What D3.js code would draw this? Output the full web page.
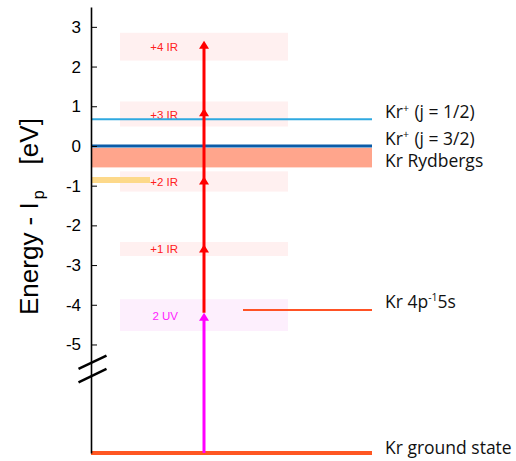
<!DOCTYPE html>
<html><head><meta charset="utf-8">
<script src="https://cdn.jsdelivr.net/npm/d3@7"></script>
<style>body{margin:0;background:#fff}</style>
</head><body><svg id="c" width="516" height="461"></svg>
<script>
// ---- data ----
const tickValues = [-5, -4, -3, -2, -1, 0, 1, 2, 3];
const photonLabels = ["2 UV", "+1 IR", "+2 IR", "+3 IR", "+4 IR"];
const photonEnergies = [-4.2, -2.48, -0.77, 0.95, 2.65];
const bandLow = [-4.66, -2.77, -1.15, 0.49, 2.15];
const bandHigh = [-3.86, -2.42, -0.64, 1.12, 2.85];
const groundEnergy = -14.0;
const ionJ12Energy = 0.67;
const ionJ32Energy = 0.0;
const rydbergRange = [-0.54, -0.05];
const excitedEnergy = -4.13;
const yellowEnergy = -0.86;
const breakEnergy = -5.66;

// ---- layout ----
const svg = d3.select("#c");
const axisX = 91, levelEnd = 372, boxX0 = 120, boxX1 = 288, arrowX = 204, labelX = 385;
const y = d3.scaleLinear().domain([groundEnergy, -5.6, 3.5]).range([453, 368.3, 7]);
const sans = "'Liberation Sans', Arial, sans-serif";
const myriad = "'Open Sans', 'Noto Sans', sans-serif";

// photon boxes
const boxes = photonLabels.map((l, i) => ({l, lo: bandLow[i], hi: bandHigh[i], uv: i === 0}));
svg.selectAll("rect.box").data(boxes).join("rect")
  .attr("x", boxX0).attr("width", boxX1 - boxX0)
  .attr("y", d => y(d.hi)).attr("height", d => y(d.lo) - y(d.hi))
  .attr("fill", d => d.uv ? "#fdeffd" : "#fff0f0");
svg.selectAll("text.box").data(boxes).join("text")
  .attr("x", 178).attr("y", d => (y(d.hi) + y(d.lo)) / 2 + 4.5)
  .attr("text-anchor", "end").attr("font-family", sans).attr("font-size", 11.5)
  .attr("fill", d => d.uv ? "#ff22ff" : "#ff2020").text(d => d.l);

// Rydberg band
svg.append("rect").attr("x", axisX).attr("width", levelEnd - axisX)
  .attr("y", y(rydbergRange[1])).attr("height", y(rydbergRange[0]) - y(rydbergRange[1]))
  .attr("fill", "#ffa58c");
// yellow bar
svg.append("line").attr("x1", axisX).attr("x2", 150).attr("y1", y(yellowEnergy)).attr("y2", y(yellowEnergy))
  .attr("stroke", "#fdd98a").attr("stroke-width", 6);
// ion levels
svg.append("line").attr("x1", axisX).attr("x2", levelEnd).attr("y1", y(ionJ12Energy)).attr("y2", y(ionJ12Energy))
  .attr("stroke", "#2fa9e0").attr("stroke-width", 2);
svg.append("line").attr("x1", axisX).attr("x2", levelEnd).attr("y1", y(ionJ32Energy)).attr("y2", y(ionJ32Energy))
  .attr("stroke", "#0b5ca8").attr("stroke-width", 3);
// excited level
svg.append("line").attr("x1", 243).attr("x2", levelEnd).attr("y1", y(excitedEnergy)).attr("y2", y(excitedEnergy))
  .attr("stroke", "#ff5225").attr("stroke-width", 2);
// ground
svg.append("line").attr("x1", axisX).attr("x2", levelEnd).attr("y1", y(groundEnergy)).attr("y2", y(groundEnergy))
  .attr("stroke", "#ff5722").attr("stroke-width", 4);

// axis
const ax = svg.append("g").attr("transform", `translate(${axisX},0)`)
  .call(d3.axisLeft(y).tickValues(tickValues).tickSizeInner(-6).tickSizeOuter(0).tickPadding(10).tickFormat(d => String(d)));
ax.select(".domain").attr("stroke", "#000").attr("stroke-width", 1.6);
ax.selectAll(".tick line").attr("stroke", "#000").attr("stroke-width", 1);
ax.selectAll(".tick text").attr("font-family", sans).attr("font-size", 17).attr("fill", "#000");

// axis break
const yb = y(breakEnergy);
[-6.7, 6.7].forEach(o => {
  svg.append("line").attr("x1", 78.5).attr("x2", 106.5)
    .attr("y1", yb + o + 6.7).attr("y2", yb + o - 6.7)
    .attr("stroke", "#000").attr("stroke-width", 2.5);
});

// arrows
const arrowW = 3, headH = 8, headHalf = 5;
svg.append("line").attr("x1", arrowX).attr("x2", arrowX)
  .attr("y1", y(groundEnergy)).attr("y2", y(photonEnergies[0]) + 4)
  .attr("stroke", "#ff00ff").attr("stroke-width", arrowW);
svg.append("line").attr("x1", arrowX).attr("x2", arrowX)
  .attr("y1", y(photonEnergies[0])).attr("y2", y(photonEnergies[photonEnergies.length - 1]) + 4)
  .attr("stroke", "#ff0000").attr("stroke-width", arrowW);
svg.selectAll("path.head").data(photonEnergies).join("path")
  .attr("d", e => `M${arrowX},${y(e)}L${arrowX + headHalf},${y(e) + headH}L${arrowX - headHalf},${y(e) + headH}Z`)
  .attr("fill", (e, i) => i === 0 ? "#ff00ff" : "#ff0000");

// level labels
function lab(yy, parts) {
  const t = svg.append("text").attr("x", labelX).attr("y", yy)
    .attr("font-family", myriad).attr("font-size", 17.5).attr("fill", "#111");
  parts.forEach(p => {
    const s = t.append("tspan").text(p.t);
    if (p.sup) s.attr("font-size", 10.5).attr("dy", -6.5);
    if (p.down) s.attr("dy", 6.5);
    if (p.dx) s.attr("dx", p.dx);
  });
}
lab(y(ionJ12Energy) - 1, [{t: "Kr"}, {t: "+", sup: 1}, {t: " (j = 1/2)", down: 1, dx: 1}]);
lab(y(ionJ32Energy) - 1, [{t: "Kr"}, {t: "+", sup: 1}, {t: " (j = 3/2)", down: 1, dx: 1}]);
lab(y(rydbergRange[0]) - 0.5, [{t: "Kr Rydbergs"}]);
lab(y(excitedEnergy) - 2, [{t: "Kr 4p"}, {t: "-1", sup: 1}, {t: "5s", down: 1}]);
lab(y(groundEnergy) + 0.5, [{t: "Kr ground state"}]);

// y title
const yt = svg.append("text").attr("transform", "translate(38,315) rotate(-90)")
  .attr("font-family", sans).attr("font-size", 26).attr("fill", "#000");
yt.append("tspan").text("Energy - I");
yt.append("tspan").text("p").attr("font-size", 16).attr("dy", 6).attr("dx", 3);
yt.append("tspan").text("[eV]").attr("dy", -6).attr("dx", 26);
</script></body></html>
